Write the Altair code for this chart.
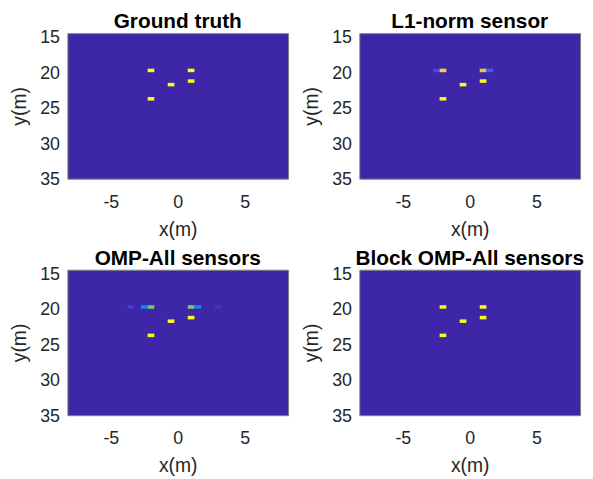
import altair as alt
import pandas as pd

# --- data (cell centers in metres, normalised amplitude) ---
panel_titles = ["Ground truth", "L1-norm sensor", "OMP-All sensors", "Block OMP-All sensors"]

gt_x = [-2, 1, -0.5, 1, -2]
gt_y = [20, 20, 22, 21.5, 24]
gt_v = [1.0, 1.0, 1.0, 1.0, 1.0]

l1_x = [-2.5, -2, 1, 1.5, -0.5, 1, -2]
l1_y = [20, 20, 20, 20, 22, 21.5, 24]
l1_v = [0.10, 0.92, 0.85, 0.15, 1.0, 1.0, 1.0]

omp_x = [-3.5, -2.5, -2, 1, 1.5, 3, -0.5, 1, -2]
omp_y = [20, 20, 20, 20, 20, 20, 22, 21.5, 24]
omp_v = [0.08, 0.27, 0.66, 0.66, 0.27, 0.04, 1.0, 1.0, 1.0]

bomp_x = [-2, 1, -0.5, 1, -2]
bomp_y = [20, 20, 22, 21.5, 24]
bomp_v = [1.0, 1.0, 1.0, 1.0, 1.0]

x_ticks = [-5, 0, 5]
y_ticks = [15, 20, 25, 30, 35]
x_domain = [-8.25, 8.25]
y_domain = [14.75, 35.25]
cell = 0.5

parula_stops = [0.0, 0.1, 0.2, 0.3, 0.4, 0.5, 0.6, 0.7, 0.8, 0.9, 1.0]
parula_colors = ["#3E26A8", "#4745E3", "#3070F8", "#1E92E8", "#10ACD4",
                 "#16BEB5", "#48C88A", "#98C85A", "#DDBE3E", "#FEC63C", "#F9FB15"]

FONT = "Liberation Sans"
BG = "#3E26A8"

series = [(gt_x, gt_y, gt_v), (l1_x, l1_y, l1_v), (omp_x, omp_y, omp_v), (bomp_x, bomp_y, bomp_v)]


def panel(title, xs, ys, vs):
    df = pd.DataFrame({"x": xs, "y": ys, "v": vs})
    return (
        alt.Chart(df, title=alt.TitleParams(title, fontSize=21, fontWeight="bold", font=FONT,
                                            color="#000000", baseline="alphabetic", offset=-20))
        .mark_rect()
        .transform_calculate(x0=f"datum.x - {cell/2}", x1=f"datum.x + {cell/2}",
                             y0=f"datum.y - {cell/2}", y1=f"datum.y + {cell/2}")
        .encode(
            x=alt.X("x0:Q", scale=alt.Scale(domain=x_domain, nice=False, zero=False),
                    axis=alt.Axis(values=x_ticks, title="x(m)", labelExpr="'' + datum.value")),
            x2="x1:Q",
            y=alt.Y("y0:Q", scale=alt.Scale(domain=y_domain, nice=False, zero=False, reverse=True),
                    axis=alt.Axis(values=y_ticks, title="y(m)")),
            y2="y1:Q",
            color=alt.Color("v:Q", scale=alt.Scale(domain=parula_stops, range=parula_colors),
                            legend=None),
        )
        .properties(width=223, height=147)
    )


charts = [panel(t, *s) for t, s in zip(panel_titles, series)]

chart = (
    alt.concat(*charts, columns=2, spacing={"row": 92, "column": 72}, bounds="flush")
    .properties(padding={"left": 1, "top": 0, "right": 0, "bottom": 0})
    .configure_view(fill=BG, stroke="#808080", strokeWidth=1)
    .configure_axis(
        labelFont=FONT, titleFont=FONT, labelColor="#262626", titleColor="#262626",
        labelFontSize=18, titleFontSize=19.5, titleFontWeight="normal",
        domain=False, ticks=False, grid=False,
    )
    .configure_axisX(labelPadding=15, titlePadding=9)
    .configure_axisY(labelPadding=8, titlePadding=10, labelOffset=3)
)

chart.save("out.html", embed_options={"renderer": "svg", "actions": False})
